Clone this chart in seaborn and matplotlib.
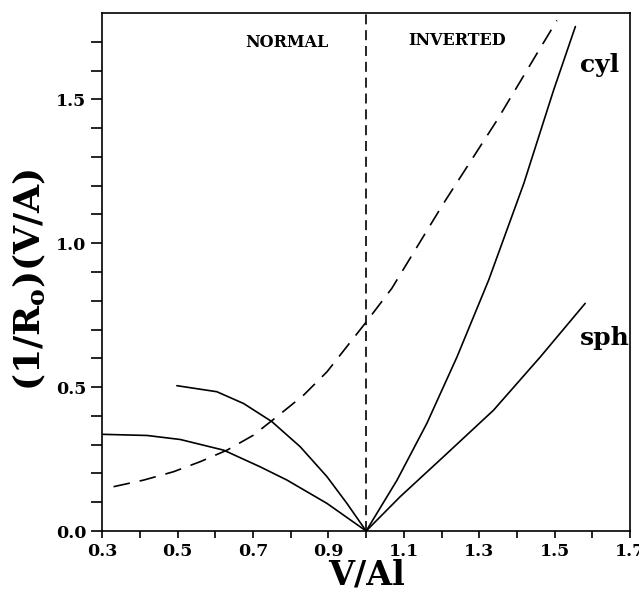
import pandas as pd
import matplotlib
matplotlib.use("Agg")
import matplotlib.pyplot as plt
import seaborn as sns

# data
x_sph_norm = [0.3, 0.419, 0.507, 0.622, 0.719, 0.79, 0.896, 1.0]
y_sph_norm = [0.336, 0.332, 0.318, 0.281, 0.223, 0.177, 0.096, 0.0]

x_cyl_norm = [0.498, 0.604, 0.675, 0.75, 0.825, 0.896, 0.949, 1.0]
y_cyl_norm = [0.505, 0.484, 0.443, 0.38, 0.293, 0.189, 0.096, 0.0]

x_cyl_inv = [1.0, 1.082, 1.161, 1.241, 1.325, 1.418, 1.497, 1.555]
y_cyl_inv = [0.0, 0.177, 0.374, 0.605, 0.872, 1.207, 1.531, 1.753]

x_sph_inv = [1.0, 1.09, 1.205, 1.338, 1.462, 1.581]
y_sph_inv = [0.0, 0.119, 0.258, 0.42, 0.605, 0.791]

x_dash = [0.33, 0.41, 0.489, 0.56, 0.631, 0.701, 0.763, 0.834, 0.896,
          1.0, 1.068, 1.205, 1.347, 1.453, 1.506]
y_dash = [0.154, 0.177, 0.206, 0.241, 0.281, 0.333, 0.397, 0.472, 0.553,
          0.726, 0.843, 1.138, 1.427, 1.659, 1.774]

x_ticks = [0.3, 0.5, 0.7, 0.9, 1.1, 1.3, 1.5, 1.7]
y_ticks = [0.0, 0.5, 1.0, 1.5]

sns.set_style("ticks")
plt.rcParams["font.family"] = ["DejaVu Serif"]
plt.rcParams["font.weight"] = "bold"
plt.rcParams["mathtext.fontset"] = "dejavuserif"
for key in ["text.color", "axes.labelcolor", "xtick.color", "ytick.color", "axes.edgecolor"]:
    plt.rcParams[key] = "black"

fig = plt.figure(figsize=(6.39, 5.91), dpi=100)
ax = fig.add_axes([0.16, 0.1015, 0.826, 0.8765])

solid = [(x_sph_norm, y_sph_norm), (x_cyl_norm, y_cyl_norm),
         (x_cyl_inv, y_cyl_inv), (x_sph_inv, y_sph_inv)]
for xs, ys in solid:
    sns.lineplot(x=xs, y=ys, ax=ax, color="black", lw=1.2, sort=False)

sns.lineplot(x=x_dash, y=y_dash, ax=ax, color="black", lw=1.2, sort=False,
             linestyle=(0, (10, 6)))
ax.axvline(1.0, color="black", lw=1.2, linestyle=(0, (6, 3.5)))

ax.set_xlim(0.3, 1.7)
ax.set_ylim(0, 1.8)
ax.set_xticks(x_ticks)
ax.set_yticks(y_ticks)
ax.set_xticks([0.4, 0.6, 0.8, 1.0, 1.2, 1.4, 1.6], minor=True)
ax.set_yticks([0.1, 0.2, 0.3, 0.4, 0.6, 0.7, 0.8, 0.9, 1.1, 1.2, 1.3, 1.4, 1.6, 1.7], minor=True)
ax.set_xticklabels([f"{v:.1f}" for v in x_ticks])
ax.set_yticklabels([f"{v:.1f}" for v in y_ticks])
ax.tick_params(axis="both", which="both", direction="out", width=1.2, labelsize=12.5)
ax.tick_params(axis="x", which="both", length=5)
ax.tick_params(axis="y", which="both", length=8)
for lab in ax.get_xticklabels() + ax.get_yticklabels():
    lab.set_fontweight("bold")
for s in ax.spines.values():
    s.set_linewidth(1.2)

ax.set_xlabel("V/Al", fontsize=24, fontweight="bold", labelpad=-1)
ax.set_ylabel(r"(1/R$_\mathbf{o}$)(V/A)", fontsize=26, fontweight="bold")
ax.yaxis.set_label_coords(-0.104, 0.485)

ax.text(0.79, 1.698, "NORMAL", fontsize=11.5, fontweight="bold", ha="center", va="center")
ax.text(1.242, 1.705, "INVERTED", fontsize=11.5, fontweight="bold", ha="center", va="center")
ax.text(1.568, 1.62, "cyl", fontsize=18, ha="left", va="center")
ax.text(1.568, 0.67, "sph", fontsize=18, ha="left", va="center")

fig.savefig("out.png", dpi=100)
